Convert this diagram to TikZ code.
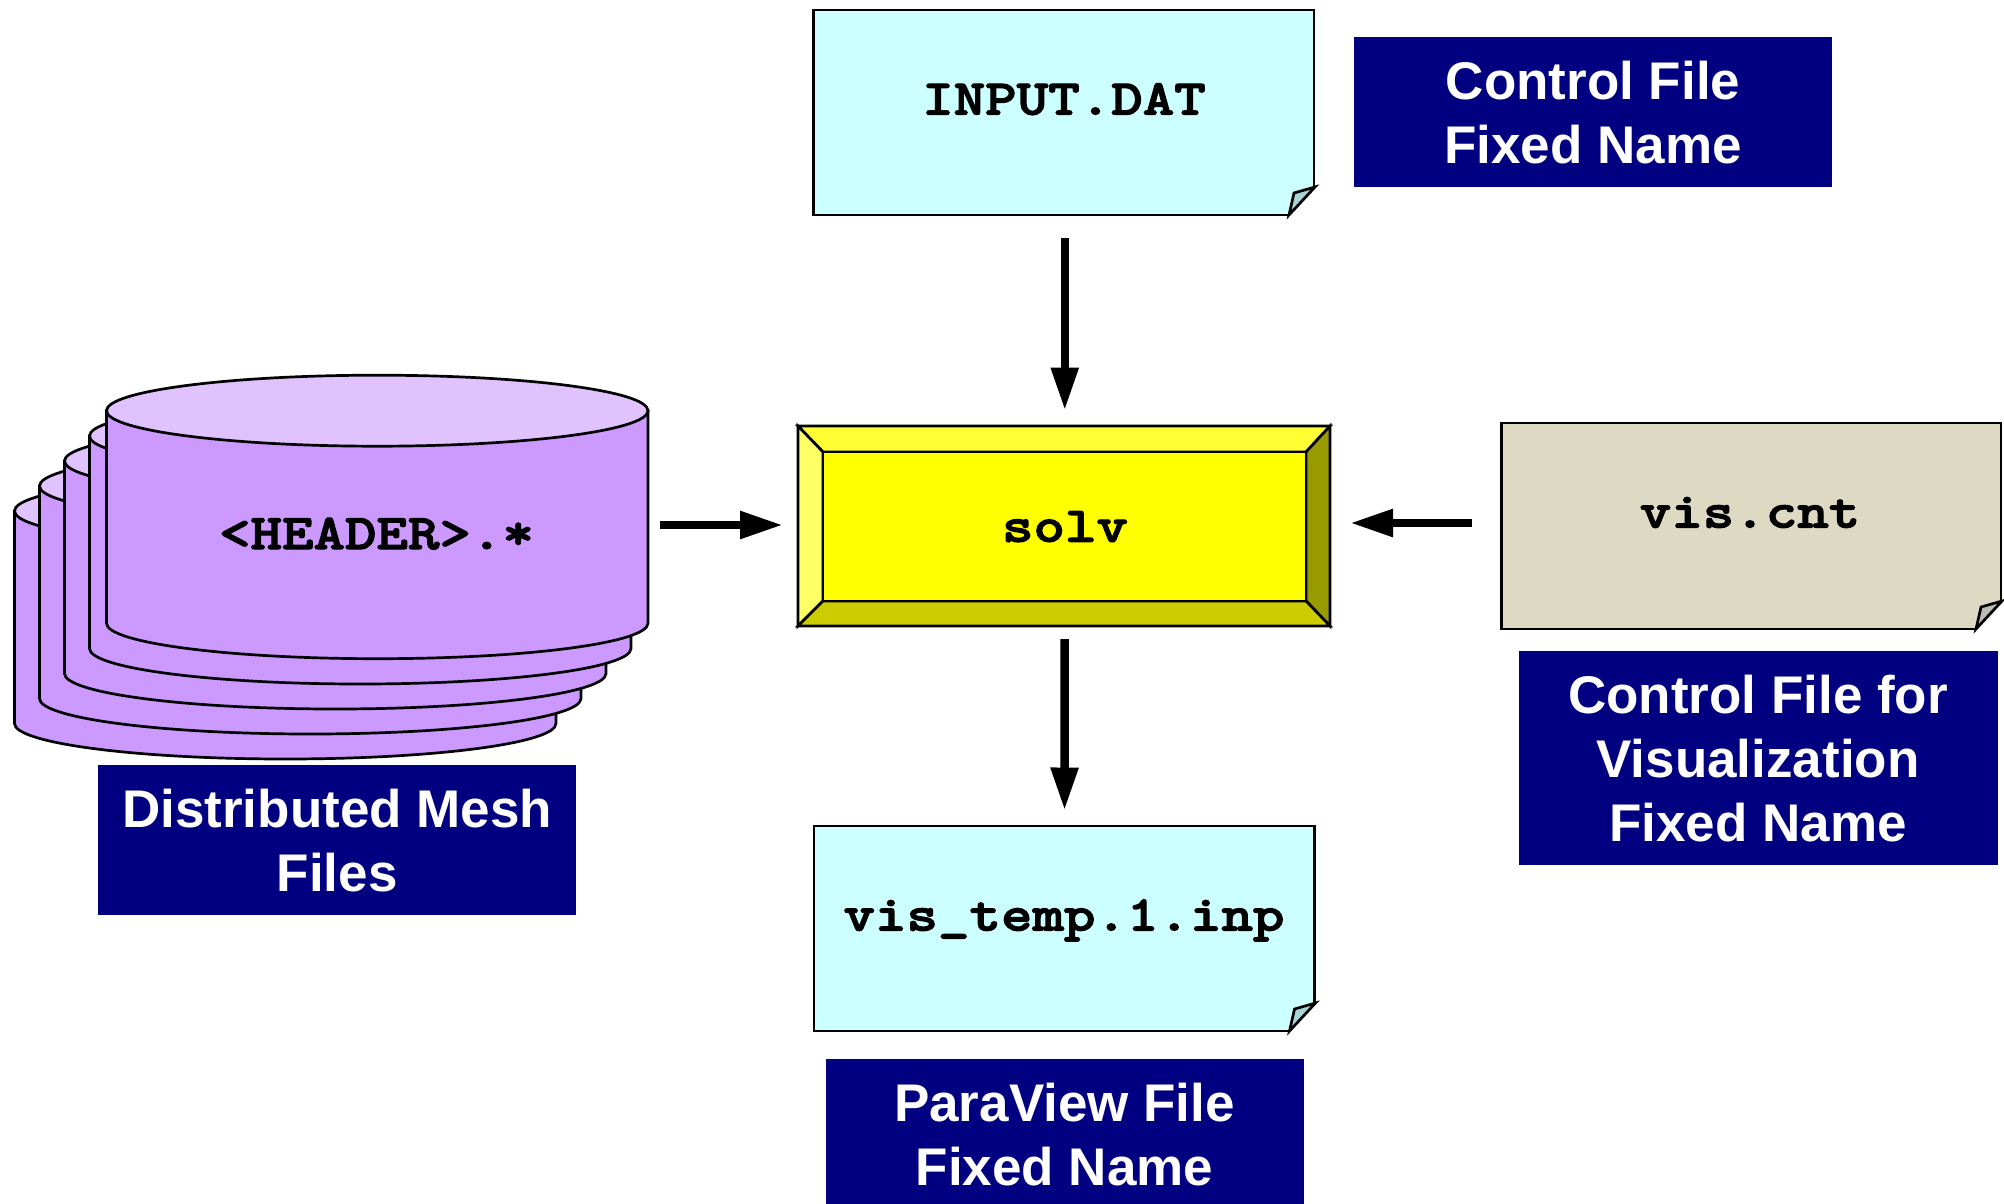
\documentclass[tikz,border=0pt]{standalone}
\usepackage{fontspec}
\setmainfont{Liberation Sans}
\newfontfamily\cf[FakeStretch=1.2,FakeBold=2.4]{Latin Modern Mono Light}
\usetikzlibrary{arrows.meta,calc}
\definecolor{navylab}{HTML}{000080}
\definecolor{cyanfile}{HTML}{CCFFFF}
\definecolor{cyanfold}{HTML}{A8D4D4}
\definecolor{beigefile}{HTML}{DDD9C3}
\definecolor{beigefold}{HTML}{BDBDB5}
\definecolor{cylside}{HTML}{CC99FF}
\definecolor{cyltop}{HTML}{E0C2FF}
\definecolor{solvface}{RGB}{255,255,0}
\definecolor{solvtop}{RGB}{255,255,51}
\definecolor{solvleft}{RGB}{255,255,102}
\definecolor{solvright}{RGB}{153,153,0}
\definecolor{solvbottom}{RGB}{204,204,0}
\newcommand{\lfix}{\rule{0pt}{39.5pt}}
\tikzset{
  x=1pt,y=-1pt,
  lab/.style={fill=navylab,text=white,inner sep=0pt,align=center,font=\fontsize{53}{64}\selectfont\bfseries},
  mono/.style={inner sep=0pt,font=\fontsize{50}{50}\selectfont\cf\bfseries},
  outline/.style={draw=black,line width=2.7pt,line join=miter},
  conn/.style={draw=black,line width=8.5pt,-{Triangle[length=43pt,width=26pt]}},
  shapebox/.style={inner sep=0pt,outer sep=0pt}
}
% name, left, top, right, bottom, fill, fold fill, text, baseline
\newcommand{\notefile}[9]{%
  \fill[#6] (#2,#3) -- (#4,#3) -- (#4,#5-27) -- (#4-25,#5) -- (#2,#5) -- cycle;
  \draw[outline] (#4,#5-27) -- (#4,#3) -- (#2,#3) -- (#2,#5) -- (#4-25,#5);
  \draw[outline,fill=#7] (#4+1,#5-28) -- (#4-20,#5-22) -- (#4-25,#5) -- cycle;
  \node[shapebox,minimum width=#4pt-#2pt,minimum height=#5pt-#3pt] (#1) at ({(#2+#4)/2},{(#3+#5)/2}) {};
  \node[mono,anchor=base] (#1t) at (#9) {#8};
}
\newcommand{\cyl}[2]{%
  \path[outline,fill=cylside] (#1,#2) -- (#1,#2+212.5)
     arc[start angle=180,end angle=360,x radius=270.75pt,y radius=35.5pt] -- (#1+541.5,#2) -- cycle;
  \path[outline,fill=cyltop] (#1+270.75,#2) ellipse[x radius=270.75pt,y radius=35.5pt];
}
\begin{document}
\begin{tikzpicture}
\useasboundingbox (0,0) rectangle (2004,1204);
% distributed mesh stack
\cyl{14.5}{511}
\cyl{39.5}{486}
\cyl{64.5}{461}
\cyl{89.5}{436}
\cyl{106.5}{410.7}
\node[shapebox,minimum width=541.5pt,minimum height=240pt] (hdr) at (377.25,534) {};
\node[mono,anchor=base] (hdrt) at (376.5,549) {<HEADER>.*};
% solver
\draw[outline,fill=solvtop] (798,426) -- (1330,426) -- (1306,452) -- (823,452) -- cycle;
\draw[outline,fill=solvleft] (798,426) -- (823,452) -- (823,601) -- (798,626) -- cycle;
\draw[outline,fill=solvright] (1330,426) -- (1306,452) -- (1306,601) -- (1330,626) -- cycle;
\draw[outline,fill=solvbottom] (798,626) -- (823,601) -- (1306,601) -- (1330,626) -- cycle;
\draw[outline,fill=solvface] (823,452) rectangle (1306,601);
\node[shapebox,minimum width=532pt,minimum height=200pt] (solv) at (1064,526) {};
\node[mono,anchor=base] (solvt) at (1065,541.7) {solv};
% files
\notefile{input}{813.5}{10}{1314}{215}{cyanfile}{cyanfold}{INPUT.DAT}{1064,114.5}
\notefile{vis}{1501.5}{423}{2001}{629}{beigefile}{beigefold}{vis.cnt}{1750,527.5}
\notefile{out}{814}{826}{1314.5}{1031}{cyanfile}{cyanfold}{vis\_temp.1.inp}{1064,930.5}
% labels
\node[lab,minimum width=477.5pt,minimum height=149.5pt] (l1) at (1593,111.8) {\lfix Control File\\Fixed Name};
\node[lab,minimum width=479pt,minimum height=214pt] (l2) at (1758,758) {\lfix Control File for\\Visualization\\Fixed Name};
\node[lab,minimum width=478pt,minimum height=149.5pt] (l3) at (337.2,840) {\lfix Distributed Mesh\\Files};
\node[lab,minimum width=478pt,minimum height=152pt] (l4) at (1064.5,1134.5) {ParaView File\\Fixed Name};
% connectors
\draw[conn,shorten <=23pt,shorten >=15.5pt] ([xshift=1pt]input.south) -- ([xshift=.75pt]solv.north);
\draw[conn,shorten <=12pt,shorten >=15pt] ([yshift=9pt]hdr.east) -- ([yshift=9pt]hdr.east -| solv.west);
\draw[conn,shorten <=29.5pt,shorten >=20pt] ([yshift=3pt]vis.west) -- ([yshift=3pt]vis.west -| solv.east);
\draw[conn,shorten <=13pt,shorten >=15.5pt] ([xshift=.75pt]solv.south) -- ([xshift=.25pt]out.north);
\end{tikzpicture}
\end{document}
